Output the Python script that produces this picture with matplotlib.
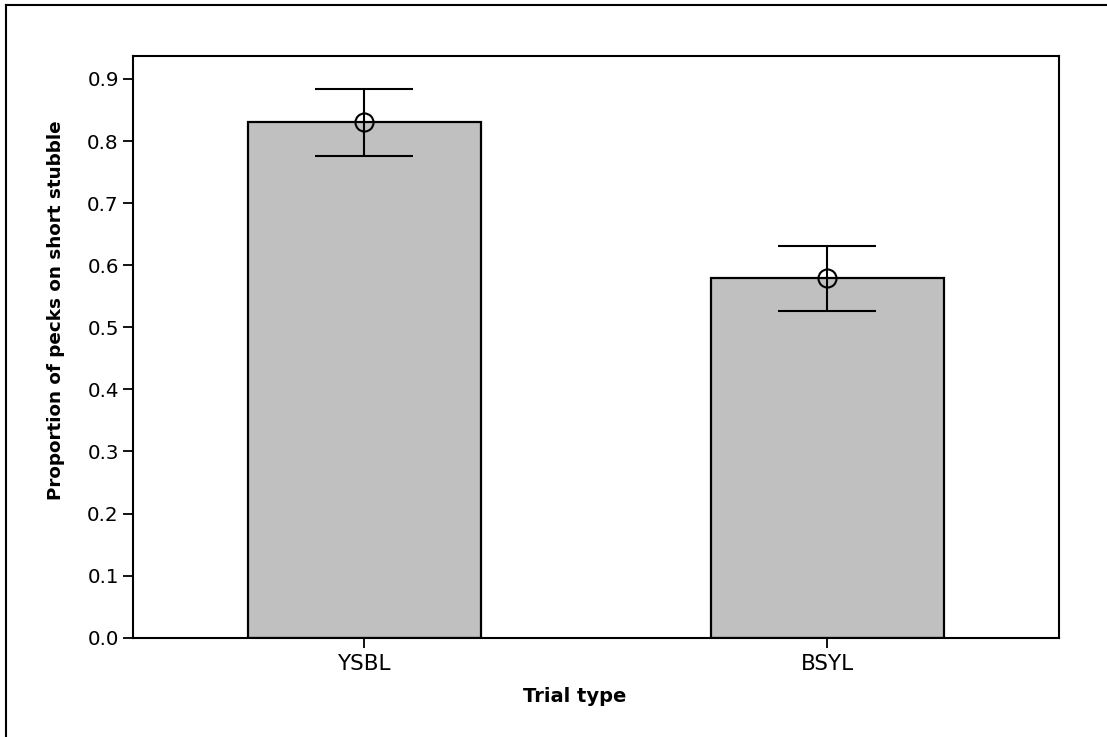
import matplotlib
matplotlib.use("Agg")
import matplotlib.pyplot as plt
from matplotlib.lines import Line2D

categories = ["YSBL", "BSYL"]
means = [0.831, 0.579]
err_low = [0.776, 0.526]
err_high = [0.884, 0.631]
yticks = [0.0, 0.1, 0.2, 0.3, 0.4, 0.5, 0.6, 0.7, 0.8, 0.9]

W, H = 1107, 737
fig = plt.figure(figsize=(W / 100, H / 100), dpi=100)
ax_l, ax_r, ax_t, ax_b = 132.7, 1059.0, 56.0, 637.7
ax = fig.add_axes([ax_l / W, 1 - ax_b / H, (ax_r - ax_l) / W, (ax_b - ax_t) / H])

x = list(range(len(categories)))
ax.bar(x, means, width=0.503, color="#c0c0c0", edgecolor="black", linewidth=1.6, zorder=2)
yerr = [[m - lo for m, lo in zip(means, err_low)], [hi - m for m, hi in zip(means, err_high)]]
ax.errorbar(x, means, yerr=yerr, fmt="o", mfc="none", mec="black", ms=13, mew=1.5,
            ecolor="black", elinewidth=1.5, capsize=35, capthick=1.5, zorder=3)

ax.set_xlim(-0.5, 1.5)
ax.set_ylim(0, 0.937)
ax.set_xticks(x)
ax.set_xticklabels(categories)
ax.set_yticks(yticks)
ax.set_yticklabels([f"{v:.1f}" for v in yticks])
ax.tick_params(axis="both", direction="out", length=7, width=1.3, pad=3)
ax.tick_params(axis="y", labelsize=14.3)
ax.tick_params(axis="x", labelsize=15.5, pad=5)
for s in ax.spines.values():
    s.set_linewidth(1.5)

ax.set_xlabel("Trial type", fontsize=14, fontweight="bold")
ax.set_ylabel("Proportion of pecks on short stubble", fontsize=13.2, fontweight="bold")
aw, ah = ax_r - ax_l, ax_b - ax_t
ax.xaxis.set_label_coords((575 - ax_l) / aw, (ax_b - 687) / ah)
ax.yaxis.set_label_coords((65 - ax_l) / aw, (ax_b - 310) / ah)

# outer frame (left and top edges visible)
fig.add_artist(Line2D([6 / W, 6 / W], [0, 1 - 4.7 / H], transform=fig.transFigure, color="black", lw=1.5))
fig.add_artist(Line2D([6 / W, 1], [1 - 4.7 / H, 1 - 4.7 / H], transform=fig.transFigure, color="black", lw=1.5))

fig.savefig("out.png", dpi=100)
